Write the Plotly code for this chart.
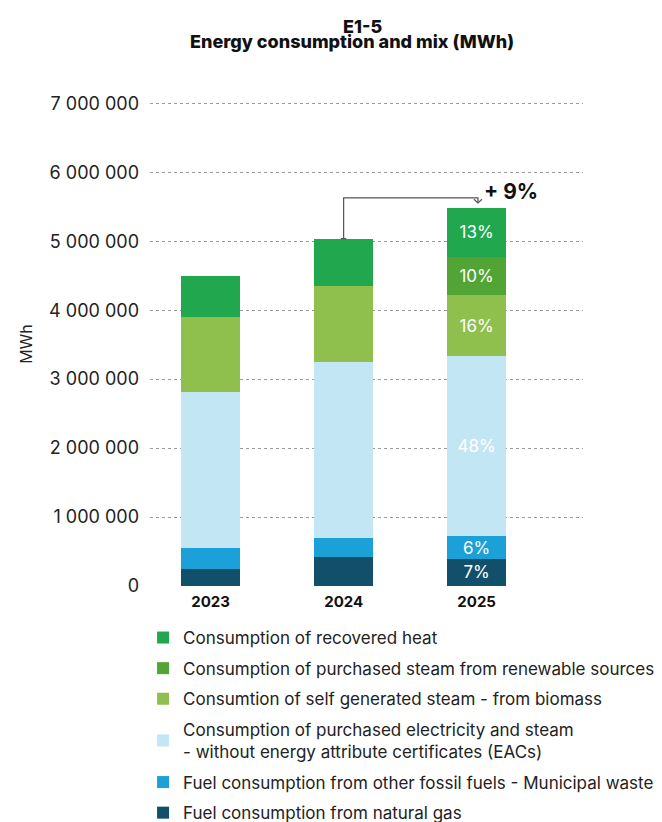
import plotly.graph_objects as go

years = ["2023", "2024", "2025"]

natural_gas = [246000, 416000, 396000]
municipal_waste = [300000, 280000, 324000]
electricity_steam = [2270000, 2550000, 2613000]
biomass_steam = [1087000, 1102000, 884000]
renewable_steam = [0, 0, 561000]
recovered_heat = [594000, 691000, 710000]

series_names = [
    "Fuel consumption from natural gas",
    "Fuel consumption from other fossil fuels - Municipal waste",
    "Consumption of purchased electricity and steam<br>- without energy attribute certificates (EACs)",
    "Consumtion of self generated steam - from biomass",
    "Consumption of purchased steam from renewable sources",
    "Consumption of recovered heat",
]
series_values = [natural_gas, municipal_waste, electricity_steam,
                 biomass_steam, renewable_steam, recovered_heat]
colors = ["#124F6B", "#1CA0D8", "#C3E6F4", "#8FC04E", "#52A535", "#21A84E"]

y_ticks = [0, 1000000, 2000000, 3000000, 4000000, 5000000, 6000000, 7000000]
y_tick_labels = ["0", "1 000 000", "2 000 000", "3 000 000", "4 000 000",
                 "5 000 000", "6 000 000", "7 000 000"]

title_line1 = "E1-5"
title_line2 = "Energy consumption and mix (MWh)"

totals = [sum(s[i] for s in series_values) for i in range(len(years))]
last = len(years) - 1

FONT = "Inter"
OFF = 8  # page body margin in the browser
W, H = 662 - OFF, 822 - OFF
M_L, M_R, M_T, M_B = 150 - OFF, 79, 102 - OFF, 236
PLOT_H = H - M_T - M_B
PLOT_W = W - M_L - M_R


def py(px):
    # screen pixel row -> paper y
    return (H - M_B - (px - OFF)) / PLOT_H


def pxx(px):
    return ((px - OFF) - M_L) / PLOT_W


fig = go.Figure()
n = len(series_names)
for i, (name, vals, col) in enumerate(zip(series_names, series_values, colors)):
    txt = ["" for _ in years]
    txt[last] = f"{round(100 * vals[last] / totals[last])}%"
    fig.add_trace(go.Bar(
        x=years, y=vals, name=name, legendgroup=name, legendrank=n - i,
        marker=dict(color=col, line=dict(width=0)),
        width=0.44,
        text=txt, textposition="inside", insidetextanchor="middle",
        textangle=0,
        textfont=dict(family=FONT, size=17, color="white"),
        hoverinfo="x+y+name",
    ))

# growth bracket between 2024 and 2025
growth = round(100 * (totals[2] - totals[1]) / totals[1])
y_top = totals[2] + 140000
tip = totals[2] + 67000
xa = 2.01
line_style = dict(color="#555555", width=1.2)
fig.add_shape(type="path",
              path=(f"M 0.98,{totals[1]} L 1.02,{totals[1]} M 1,{totals[1]} "
                    f"L 1,{y_top} L {xa},{y_top} L {xa},{tip}"),
              xref="x", yref="y", line=line_style)
fig.add_shape(type="path",
              path=f"M {xa - 0.03},{tip + 55000} L {xa},{tip} L {xa + 0.03},{tip + 55000}",
              xref="x", yref="y", line=line_style)
fig.add_annotation(x=2.04, y=y_top + 95000, xref="x", yref="y",
                   text=f"+ {growth}%", showarrow=False,
                   xanchor="left", yanchor="middle",
                   font=dict(family=FONT, size=21, color="#111111", weight=700))

# two-line title
fig.add_annotation(x=pxx(362), y=py(26), xref="paper", yref="paper",
                   text=title_line1, showarrow=False, xanchor="center", yanchor="middle",
                   font=dict(family=FONT, size=18, color="#111111", weight=800))
fig.add_annotation(x=pxx(352), y=py(42), xref="paper", yref="paper",
                   text=title_line2, showarrow=False, xanchor="center", yanchor="middle",
                   font=dict(family=FONT, size=18, color="#111111", weight=800))

fig.update_layout(
    width=W, height=H,
    barmode="stack",
    paper_bgcolor="white", plot_bgcolor="white",
    margin=dict(l=M_L, r=M_R, t=M_T, b=M_B, autoexpand=False),
    font=dict(family=FONT, color="#222222"),
    showlegend=True,
    legend=dict(traceorder="grouped", orientation="v",
                x=-0.016, xanchor="left", y=py(620), yanchor="top",
                font=dict(family=FONT, size=17, color="#222222"),
                tracegroupgap=5.5, itemwidth=30),
    uniformtext=dict(minsize=17, mode="show"),
    xaxis=dict(type="category", range=[-0.456, 2.8],
               tickfont=dict(family=FONT, size=15, color="#111111", weight=700),
               showgrid=False, zeroline=False, showline=False, ticks="",
               ticklabelstandoff=5),
    yaxis=dict(range=[0, 7020000], tickvals=y_ticks, ticktext=y_tick_labels,
               tickfont=dict(family=FONT, size=18, color="#222222"),
               showgrid=True, gridcolor="#9a9a9a", griddash="dot", gridwidth=1,
               zeroline=False, showline=False, ticks="", ticklabelstandoff=10,
               title=dict(text="MWh", font=dict(family=FONT, size=16, color="#222222"),
                          standoff=12)),
)

fig.write_html("out.html")
